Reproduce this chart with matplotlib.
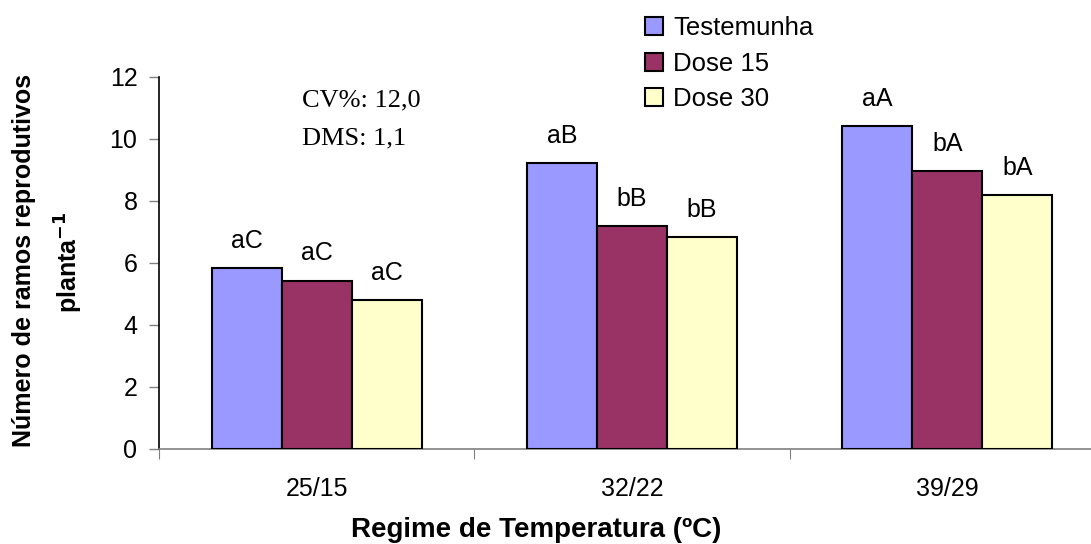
import numpy as np
import matplotlib.pyplot as plt

# dados
regimes = ['25/15', '32/22', '39/29']
series = ['Testemunha', 'Dose 15', 'Dose 30']
testemunha = [5.82, 9.23, 10.42]
dose15 = [5.43, 7.19, 8.97]
dose30 = [4.81, 6.83, 8.20]
letras_testemunha = ['aC', 'aB', 'aA']
letras_dose15 = ['aC', 'bB', 'bA']
letras_dose30 = ['aC', 'bB', 'bA']

cores = ['#9999FF', '#993366', '#FFFFCC']

plt.rcParams['font.family'] = ['Liberation Sans', 'DejaVu Sans']

fig = plt.figure(figsize=(10.91, 5.44), dpi=100)
ax = fig.add_axes([159 / 1091, 1 - 449 / 544, (1105 - 159) / 1091, (449 - 76.7) / 544])

x = np.arange(len(regimes))
w = 1 / 4.5
valores = [testemunha, dose15, dose30]
letras = [letras_testemunha, letras_dose15, letras_dose30]
for i in range(3):
    pos = x + (i - 1) * w
    barras = ax.bar(pos, valores[i], width=w, color=cores[i], edgecolor='black',
                    linewidth=1.5, label=series[i], zorder=3)
    for b, txt in zip(barras, letras[i]):
        ax.annotate(txt, (b.get_x() + b.get_width() / 2, b.get_height()),
                    xytext=(0, 19.5), textcoords='offset points',
                    ha='center', va='center', fontsize=18)

ax.set_xlim(-0.5, 2.5)
ax.set_ylim(0, 12)
ax.set_yticks(range(0, 13, 2))
ax.set_xticks([-0.5, 0.5, 1.5])
ax.set_xticklabels([])
ax.set_xticks(x, minor=True)
ax.set_xticklabels(regimes, minor=True)
ax.tick_params(axis='x', which='major', length=7, color='#808080', direction='out')
ax.tick_params(axis='x', which='minor', length=0, pad=20, labelsize=18)
ax.tick_params(axis='y', length=7, width=1, direction='out', pad=8.5, labelsize=18,
               color='#808080')

for s in ['top', 'right']:
    ax.spines[s].set_visible(False)
ax.spines['left'].set_color('black')
ax.spines['bottom'].set_color('#808080')
ax.spines['left'].set_linewidth(1.2)
ax.spines['bottom'].set_linewidth(1.2)

ax.text(302 / 1091, 1 - 100 / 544, 'CV%: 12,0', transform=fig.transFigure,
        family='Liberation Serif', fontsize=19, va='center', ha='left')
ax.text(302 / 1091, 1 - 138 / 544, 'DMS: 1,1', transform=fig.transFigure,
        family='Liberation Serif', fontsize=19, va='center', ha='left')

fig.legend(loc='upper left', bbox_to_anchor=(645 / 1091, 1 - 16 / 544),
           frameon=False, fontsize=18.5, handlelength=0.7, handleheight=0.7,
           handletextpad=0.4, labelspacing=0.45, borderpad=0, borderaxespad=0)

fig.text(24 / 1091, 1 - 260 / 544, 'Número de ramos reprodutivos', rotation=90,
         ha='center', va='center', fontsize=18, fontweight='bold')
fig.text(69 / 1091, 1 - 262 / 544, 'planta$^{\\mathbf{-1}}$', rotation=90,
         ha='center', va='center', fontsize=18, fontweight='bold')
fig.text(536 / 1091, 1 / 544, 'Regime de Temperatura (ºC)',
         ha='center', va='bottom', fontsize=20, fontweight='bold')

fig.savefig('out.png', dpi=100)
